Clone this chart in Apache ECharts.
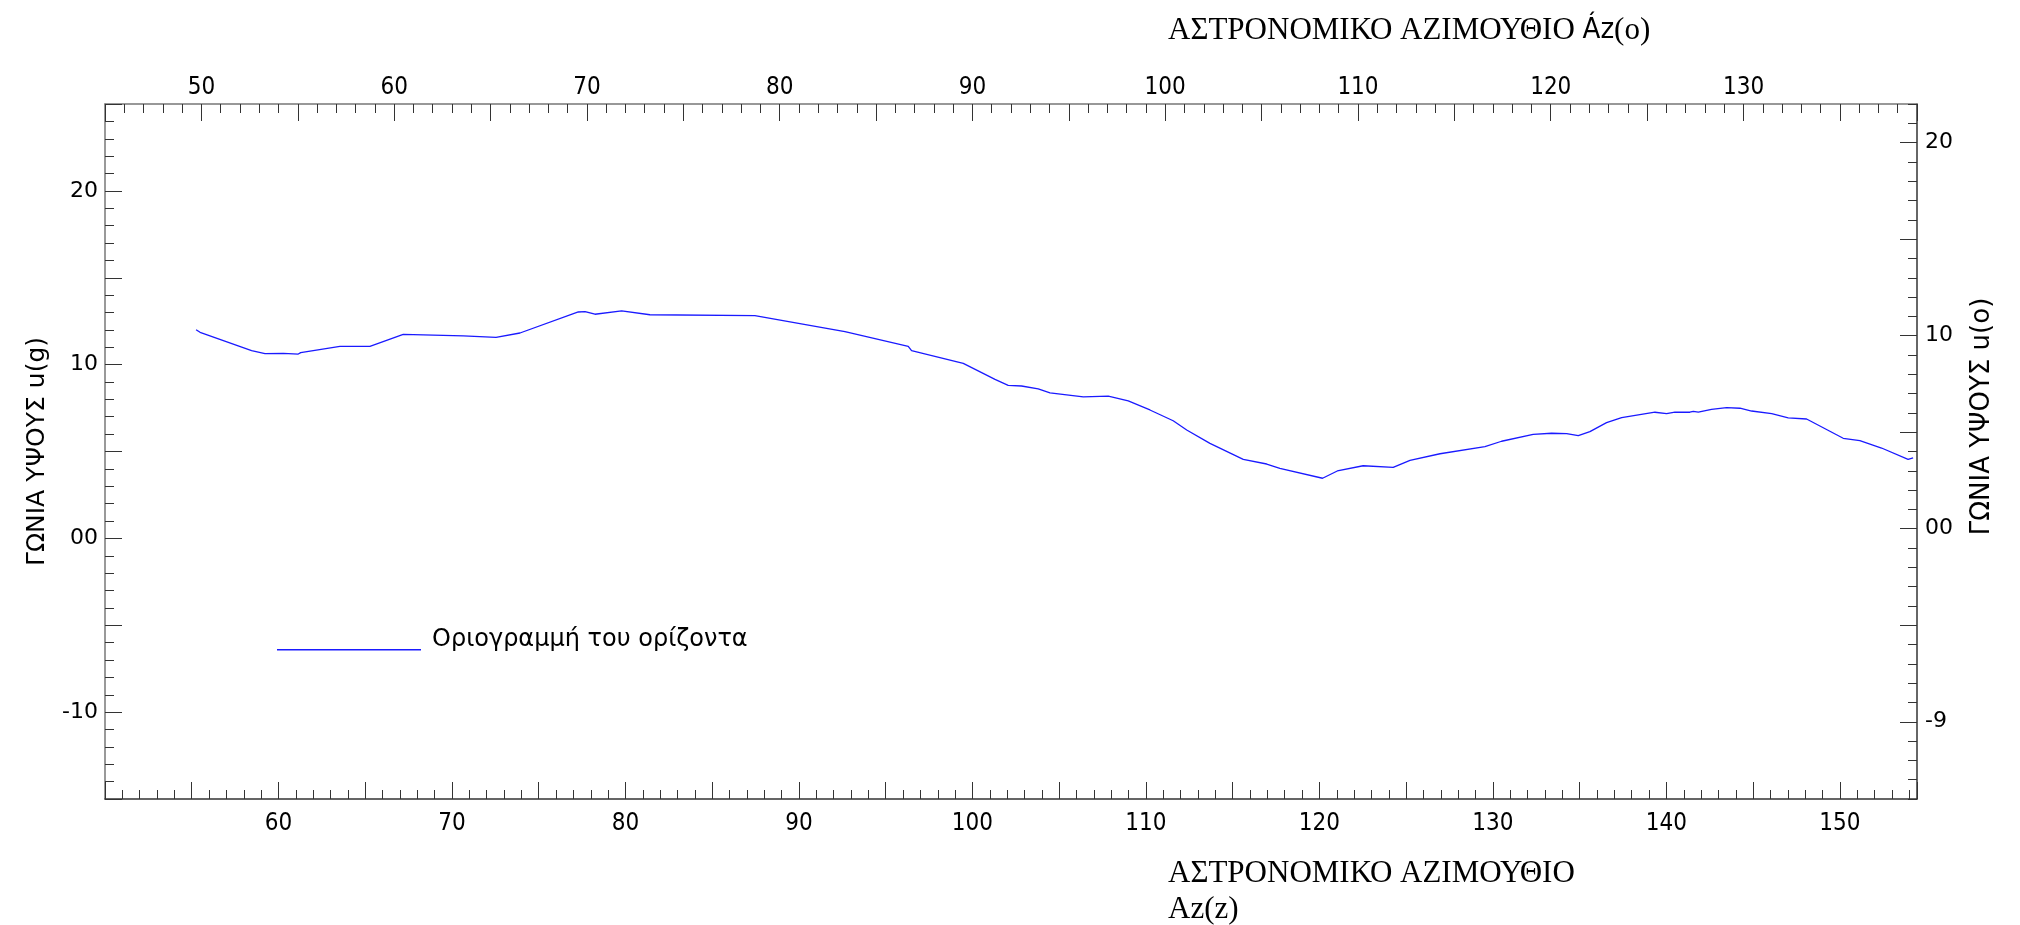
<!DOCTYPE html>
<html>
<head>
<meta charset="utf-8">
<script src="https://cdn.jsdelivr.net/npm/echarts@6/dist/echarts.min.js"></script>
<style>
html,body{margin:0;padding:0;background:#fff;}
#chart{width:2020px;height:925px;}
</style>
</head>
<body>
<div id="chart"></div>
<script>
// Azimuth in grads (bottom axis) and horizon elevation in grads (left axis)
const azimuthGrad = [55.25,55.48,58.45,59.22,60.28,61.14,61.28,63.54,65.27,67.19,70.65,72.54,73.92,77.28,77.67,78.24,79.78,81.41,87.46,92.65,96.30,96.49,99.47,100.53,101.30,102.06,102.83,103.79,104.47,106.39,107.83,108.98,110.23,111.57,112.35,113.69,115.61,116.96,117.72,120.18,121.03,122.52,124.25,125.22,126.95,129.54,130.50,132.32,133.38,134.25,134.92,135.59,136.55,137.42,139.34,140.01,140.49,141.35,141.55,141.84,142.60,143.47,144.24,144.91,146.07,147.02,148.08,150.19,151.15,152.40,153.93,154.22];
const elevationGrad = [12.01,11.86,10.80,10.63,10.65,10.61,10.69,11.05,11.05,11.74,11.65,11.57,11.82,13.03,13.05,12.90,13.09,12.87,12.82,11.90,11.05,10.80,10.07,9.54,9.15,8.81,8.77,8.60,8.37,8.14,8.19,7.91,7.39,6.77,6.24,5.47,4.55,4.28,4.03,3.46,3.88,4.18,4.09,4.49,4.87,5.28,5.59,5.99,6.05,6.03,5.91,6.14,6.66,6.95,7.26,7.18,7.27,7.26,7.31,7.27,7.43,7.52,7.49,7.33,7.18,6.93,6.87,5.76,5.62,5.20,4.55,4.63];

const seriesName = 'Οριογραμμή του ορίζοντα';
const topTitleMain = 'ΑΣΤΡΟΝΟΜΙΚΟ ΑΖΙΜΟΥΘΙΟ ';
const topTitleUnit = 'Áz';
const topTitleEnd = '(o)';
const bottomTitle = 'ΑΣΤΡΟΝΟΜΙΚΟ ΑΖΙΜΟΥΘΙΟ\nAz(z)';
const leftTitle = 'ΓΩΝΙΑ ΥΨΟΥΣ u(g)';
const rightTitle = 'ΓΩΝΙΑ ΥΨΟΥΣ u(o)';

// axis ranges
const bottomRange = [50, 154.444];   // grads
const topRange = [45, 139];          // degrees
const leftRange = [-15, 25];         // grads
const rightRange = [-14, 22];        // degrees
const rightMajorTicks = [-10, -5, 0, 5, 10, 15, 20];
const rightLabelTicks = [-10, 0, 10, 20];
const rightLabelText = {'-10': '-9', '0': '00', '10': '10', '20': '20'};

const condensed = "'DejaVu Sans Condensed','Liberation Sans Narrow','DejaVu Sans',sans-serif";
const sans = "'DejaVu Sans',Verdana,sans-serif";
const serif = "'Liberation Serif','DejaVu Serif',serif";

const data = azimuthGrad.map((x, i) => [x, elevationGrad[i]]);

const tickColor = '#333';
const shortLen = 9, longLen = 17;

function xa(pos, range, interval, len, showLine, label) {
  return {
    type: 'value', position: pos, min: range[0], max: range[1], interval: interval,
    axisLine: {show: showLine, onZero: false, lineStyle: {color: pos === 'top' ? '#777' : '#333', width: 1.5}},
    axisTick: {show: true, inside: true, length: len, lineStyle: {color: tickColor, width: 1}},
    axisLabel: label || {show: false},
    splitLine: {show: false}
  };
}
function ya(pos, range, interval, len, showLine, label, extraTick) {
  return {
    type: 'value', position: pos, min: range[0], max: range[1], interval: interval,
    axisLine: {show: showLine, onZero: false, lineStyle: {color: pos === 'left' ? '#777' : '#333', width: 1.5}},
    axisTick: Object.assign({show: true, inside: true, length: len, lineStyle: {color: tickColor, width: 1}}, extraTick || {}),
    axisLabel: label || {show: false},
    splitLine: {show: false}
  };
}

const chart = echarts.init(document.getElementById('chart'));
const leftMajor = ya('left', leftRange, 5, longLen, false, {
  show: true, fontFamily: sans, fontSize: 22, color: '#000', margin: 7,
  formatter: v => (Math.abs(v % 10) < 1e-6 ? (v === 0 ? '00' : String(v)) : '')
});
leftMajor.name = leftTitle;
leftMajor.nameLocation = 'middle';
leftMajor.nameRotate = 90;
leftMajor.nameGap = 55;
leftMajor.nameTextStyle = {fontFamily: sans, fontSize: 25, color: '#000'};

const rightMajor = ya('right', rightRange, null, longLen, false, {
  show: true, fontFamily: sans, fontSize: 22, color: '#000', margin: 8,
  customValues: rightLabelTicks,
  formatter: v => rightLabelText[String(Math.round(v))] || ''
}, {customValues: rightMajorTicks});
delete rightMajor.interval;
rightMajor.name = rightTitle;
rightMajor.nameLocation = 'middle';
rightMajor.nameRotate = 90;
rightMajor.nameGap = 52;
rightMajor.nameTextStyle = {fontFamily: sans, fontSize: 26, color: '#000', padding: [0, 0, 0, 70]};

chart.setOption({
  animation: false,
  backgroundColor: '#fff',
  grid: {left: 105, right: 103, top: 104, bottom: 126, containLabel: false},
  title: [
    {text: '{a|' + topTitleMain + '}{b|' + topTitleUnit + '}{a|' + topTitleEnd + '}', left: 1163, top: 10,
     textStyle: {fontWeight: 'normal', rich: {
       a: {fontFamily: serif, fontSize: 31, fontWeight: 'normal', color: '#000'},
       b: {fontFamily: condensed, fontSize: 29, fontWeight: 'normal', color: '#000'}
     }}},
    {text: bottomTitle, left: 1163, top: 851, textStyle: {fontFamily: serif, fontSize: 31, fontWeight: 'normal', color: '#000', lineHeight: 36}}
  ],
  legend: {
    left: 272, top: 623, itemWidth: 144, itemHeight: 21,
    icon: 'path://M0,0L0.01,0L0.01,0.01Z M0,19.5L144,19.5L144,21L0,21Z',
    data: [seriesName],
    textStyle: {fontFamily: sans, fontSize: 24, color: '#000', padding: [0, 0, 0, 6]}
  },
  xAxis: [
    xa('bottom', bottomRange, 1, shortLen, true),
    xa('bottom', bottomRange, 5, longLen, false, {
      show: true, fontFamily: condensed, fontSize: 24, color: '#000', margin: 13,
      formatter: v => (Math.abs(v % 10) < 1e-6 && v > 50 ? String(v) : '')
    }),
    xa('top', topRange, 1, shortLen, true),
    xa('top', topRange, 5, longLen, false, {
      show: true, fontFamily: condensed, fontSize: 24, color: '#000', margin: 4,
      formatter: v => (Math.abs(v % 10) < 1e-6 ? String(v) : '')
    })
  ],
  yAxis: [
    ya('left', leftRange, 1, shortLen, true),
    leftMajor,
    ya('right', rightRange, 1, shortLen, true),
    rightMajor
  ],
  series: [{
    name: seriesName, type: 'line', xAxisIndex: 1, yAxisIndex: 1,
    data: data, showSymbol: false, symbol: 'none', smooth: false,
    lineStyle: {color: '#1a1aff', width: 1.3}, itemStyle: {color: '#1a1aff'}
  }]
});
</script>
</body>
</html>
